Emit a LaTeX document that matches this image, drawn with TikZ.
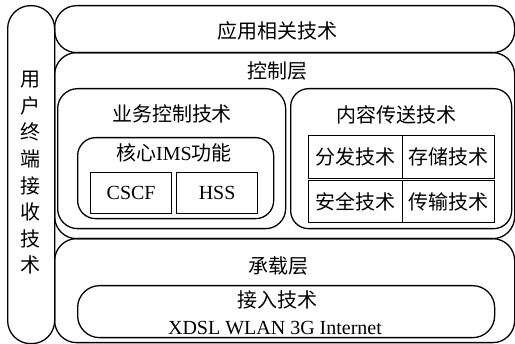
\documentclass[tikz,border=0pt]{standalone}
\usepackage{fontspec}
\setmainfont{Liberation Serif}
\newfontfamily\cjk{Noto Sans CJK SC}
\begin{document}
\begin{tikzpicture}[x=1pt,y=-1pt,
  box/.style={draw, line width=1.3pt, inner sep=0pt, anchor=north west,
    font=\fontsize{20}{24}\selectfont},
  txt/.style={font=\fontsize{20}{24}\selectfont, inner sep=0pt}]
\useasboundingbox (0,0) rectangle (515,344);
% outer boxes
\node[box, rounded corners=23pt, minimum width=47pt, minimum height=338pt] (user) at (7,5) {};
\node[box, rounded corners=22pt, minimum width=460pt, minimum height=47pt] (app) at (54,5) {};
\node[box, rounded corners=22pt, minimum width=460pt, minimum height=186pt] (ctrl) at (54,52) {};
\node[box, rounded corners=22pt, minimum width=460pt, minimum height=104pt] (bearer) at (54,238) {};
% control layer inner boxes
\node[box, rounded corners=20pt, minimum width=228pt, minimum height=140pt] (biz) at (57,88) {};
\node[box, rounded corners=18pt, minimum width=221pt, minimum height=140pt] (content) at (290,88) {};
\node[box, rounded corners=18pt, minimum width=196pt, minimum height=81pt] (core) at (77,137) {};
\node[box, minimum width=81pt, minimum height=41pt] (cscf) at (90,172) {CSCF};
\node[box, minimum width=81pt, minimum height=41pt] (hss) at (176,172) {HSS};
\node[box, minimum width=94pt, minimum height=43pt] (fen) at (308,135) {\cjk 分发技术};
\node[box, minimum width=92pt, minimum height=43pt] (cun) at (402,135) {\cjk 存储技术};
\node[box, minimum width=94pt, minimum height=42pt] (an) at (308,180) {\cjk 安全技术};
\node[box, minimum width=92pt, minimum height=42pt] (chuan) at (402,180) {\cjk 传输技术};
% bearer inner box
\node[box, rounded corners=22pt, minimum width=417pt, minimum height=52pt] (access) at (77,285) {};
% labels
\node[txt] (tapp) at (277.5,31) {\cjk 应用相关技术};
\node[txt] (tctrl) at (277.5,71) {\cjk 控制层};
\node[txt] (tbiz) at (172,114) {\cjk 业务控制技术};
\node[txt] (tcontent) at (396,115) {\cjk 内容传送技术};
\node[txt] (tcore) at (174,153) {{\cjk 核心}IMS{\cjk 功能}};
\node[txt] (tbearer) at (278,266) {\cjk 承载层};
\node[txt] (taccess) at (277.5,300) {\cjk 接入技术};
\node[txt] (tnet) at (275,328) {XDSL WLAN 3G Internet};
\node[inner sep=0pt, align=center, font=\fontsize{20}{26.6}\selectfont\cjk] (tuser) at (30,173)
  {用\\户\\终\\端\\接\\收\\技\\术};
\end{tikzpicture}
\end{document}
